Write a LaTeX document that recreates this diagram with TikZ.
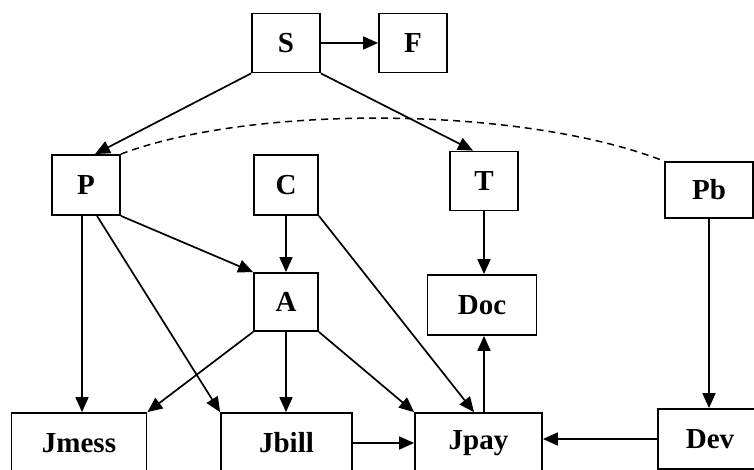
\documentclass[tikz,border=0pt]{standalone}
\usepackage{fontspec}
\setmainfont{Liberation Serif}
\usetikzlibrary{arrows.meta}
\begin{document}
\begin{tikzpicture}[x=1pt,y=-1pt,
  box/.style={draw, line width=1.8pt, inner sep=0pt, minimum height=59pt,
    font=\fontsize{29}{31}\selectfont\bfseries},
  link/.style={line width=1.7pt, -{Triangle[length=15pt,width=13pt]}},
  assoc/.style={line width=1.5pt, dashed, dash pattern=on 7pt off 5pt}]
\path[use as bounding box, clip] (0,0) rectangle (754,470);
% upper row
\node[box, minimum width=68pt] (S) at (286,43) {S};
\node[box, minimum width=68pt] (F) at (413,43) {F};
% middle rows
\node[box, minimum width=68pt, minimum height=60pt] (P) at (86,185) {P};
\node[box, minimum width=64pt, minimum height=60pt] (C) at (286,185) {C};
\node[box, minimum width=68pt] (T) at (484,181) {T};
\node[box, minimum width=88pt, minimum height=56pt] (Pb) at (709,190) {Pb};
\node[box, minimum width=64pt, minimum height=58pt] (A) at (286,302) {A};
\node[box, minimum width=109pt, minimum height=60pt] (Doc) at (482,305) {Doc};
% bottom row
\node[box, minimum width=135pt, minimum height=60pt] (Jmess) at (79,443) {Jmess};
\node[box, minimum width=131pt, minimum height=60pt] (Jbill) at (286.5,443) {Jbill};
\node[box, minimum width=127pt, minimum height=60pt] (Jpay) at (478.5,443) {Jpay};
\node[box, minimum width=104pt, minimum height=60pt] (Dev) at (710,439) {Dev};
% connectors
\draw[link] (S.east) -- (F.west);
\draw[link] (S.south west) -- ([xshift=9pt]P.north);
\draw[link] (S.south east) -- ([xshift=-11pt]T.north);
\draw[assoc] (P.north east) .. controls (250,105) and (520,105) .. (Pb.north west);
\draw[link] (P.south east) -- (A.north west);
\draw[link] ([xshift=-4pt]P.south) -- ([xshift=-4pt]P.south |- Jmess.north);
\draw[link] ([xshift=11pt]P.south) -- (Jbill.north west);
\draw[link] (C.south) -- (A.north);
\draw[link] (C.south east) -- ([xshift=-4.5pt]Jpay.north);
\draw[link] (A.south west) -- (Jmess.north east);
\draw[link] (A.south) -- (A.south |- Jbill.north);
\draw[link] (A.south east) -- (Jpay.north west);
\draw[link] (Jbill.east) -- (Jbill.east -| Jpay.west);
\draw[link] ([xshift=5.5pt]Jpay.north) -- ([xshift=5.5pt]Jpay.north |- Doc.south);
\draw[link] (T.south) -- (T.south |- Doc.north);
\draw[link] (Pb.south) -- (Pb.south |- Dev.north);
\draw[link] (Dev.west) -- (Dev.west -| Jpay.east);
\end{tikzpicture}
\end{document}
